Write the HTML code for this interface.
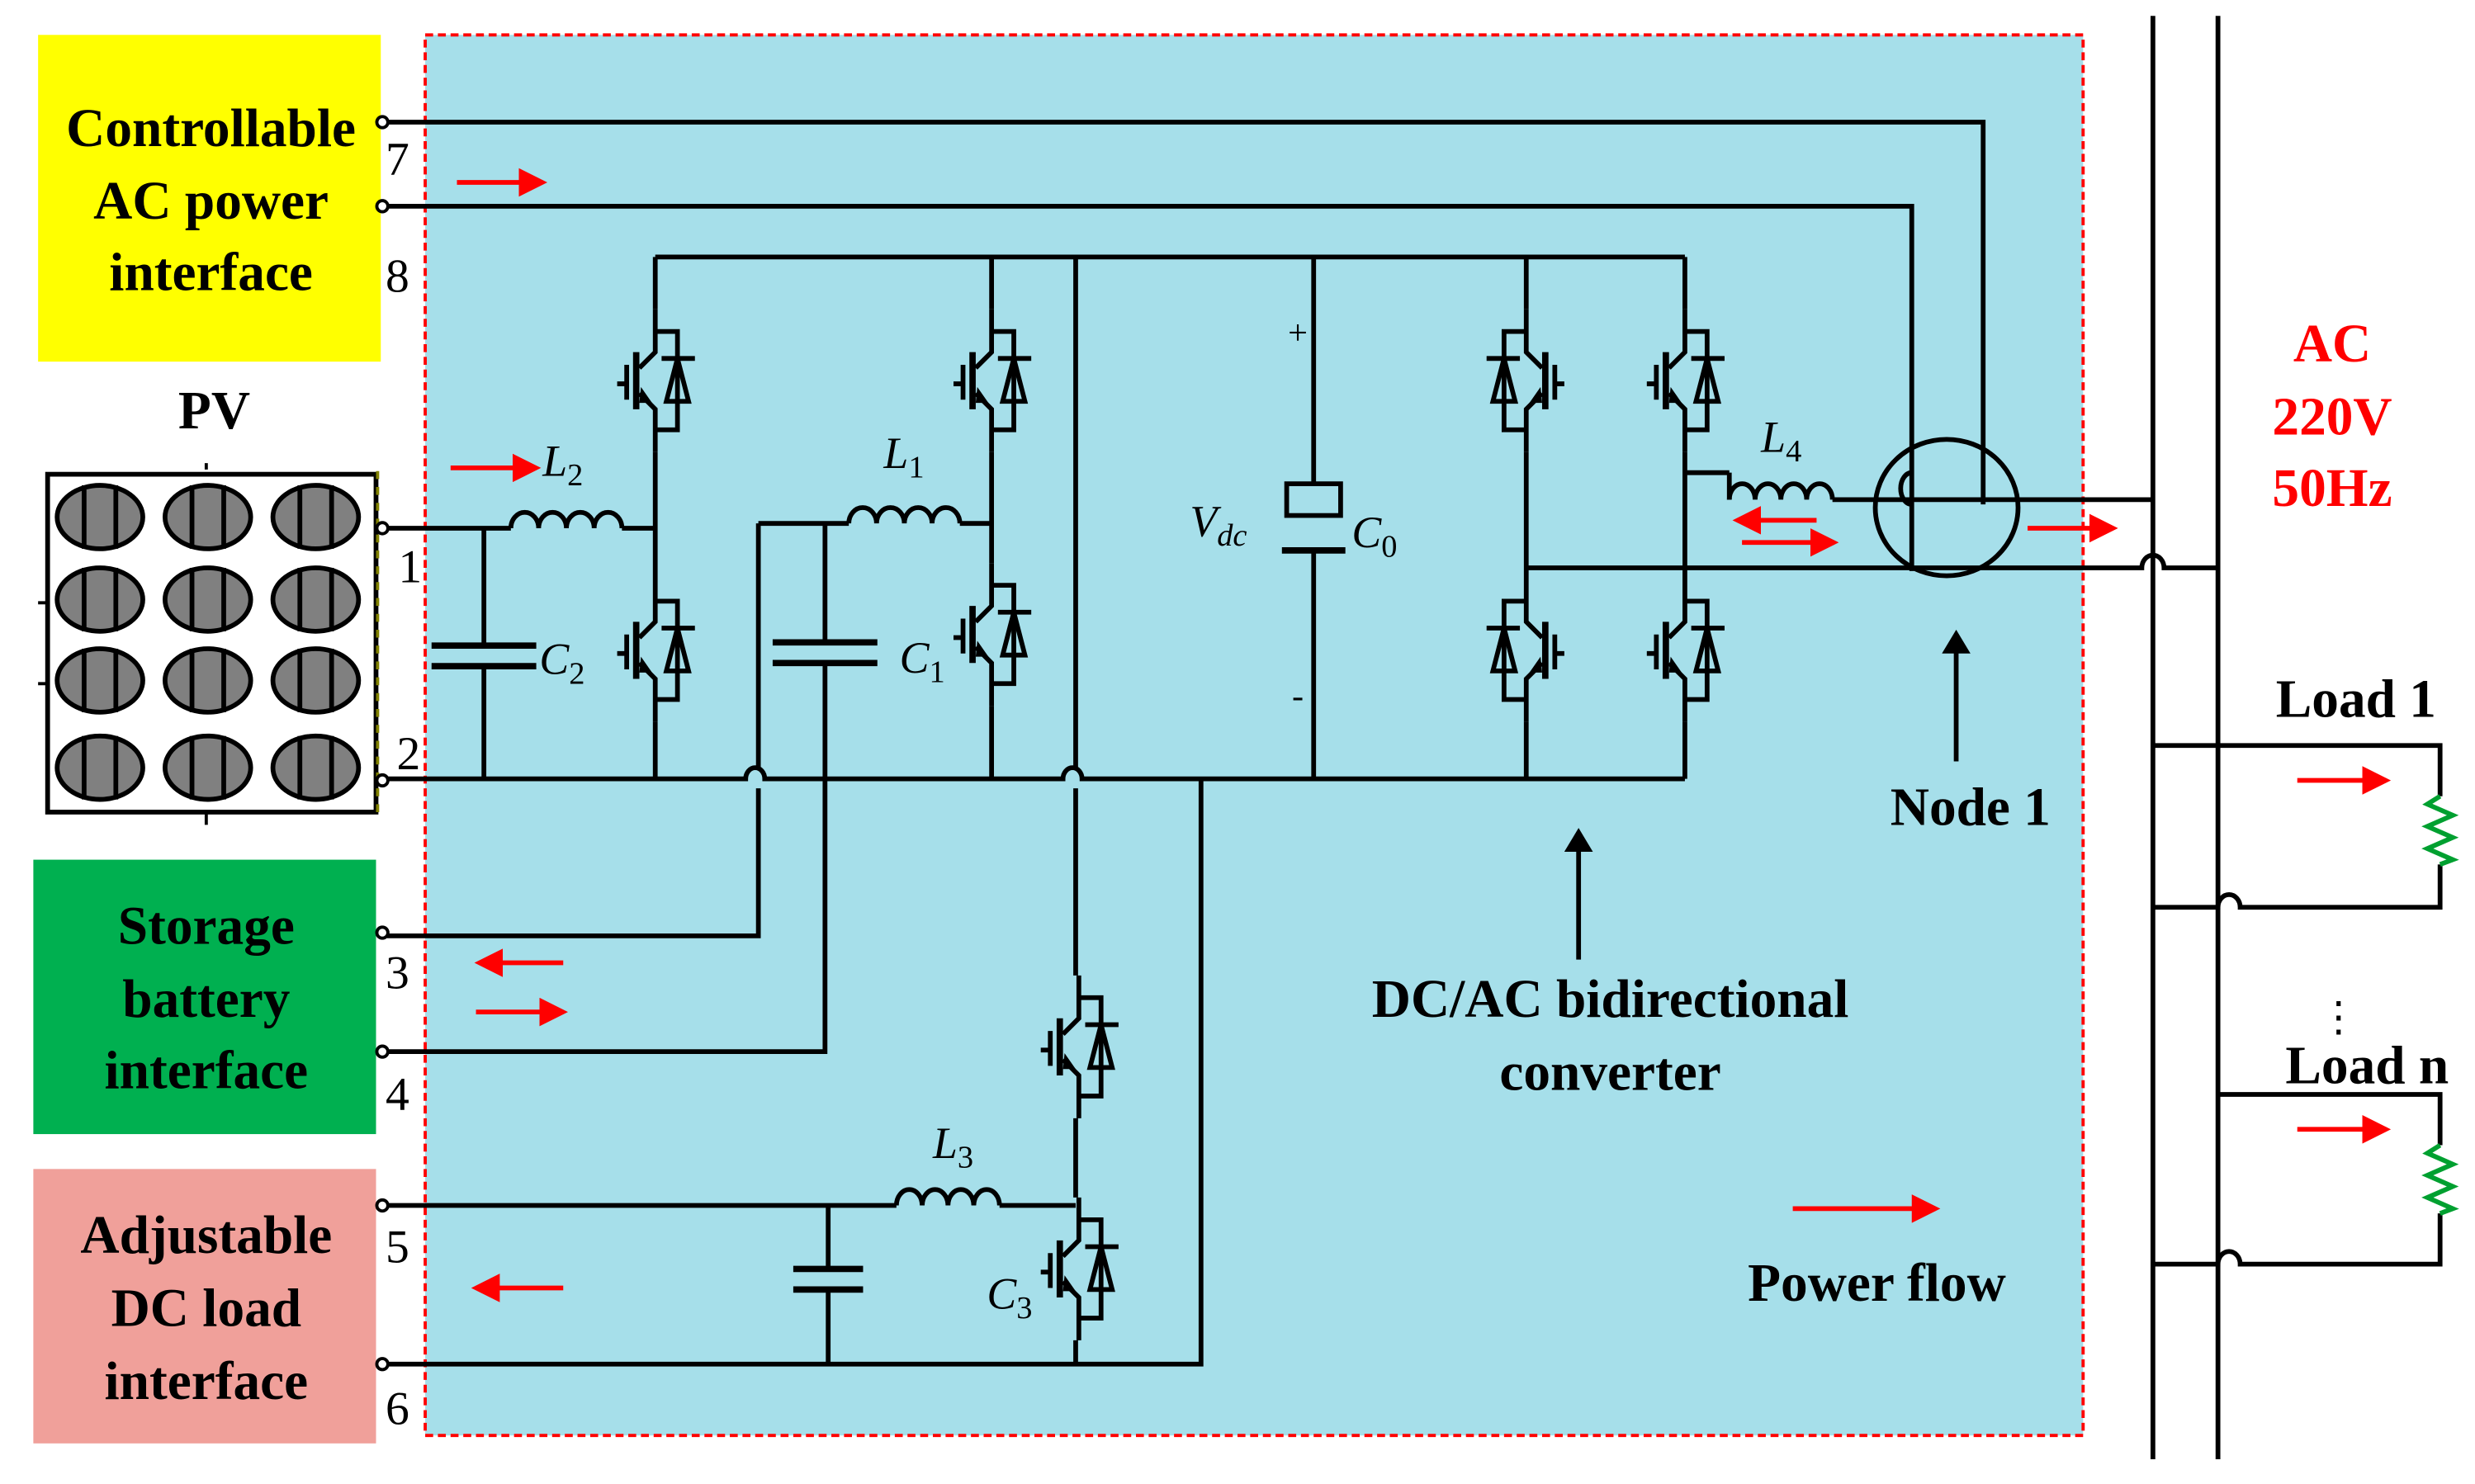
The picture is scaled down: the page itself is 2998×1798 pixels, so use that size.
<!DOCTYPE html>
<html><head><meta charset="utf-8"><style>
html,body{margin:0;padding:0;background:#fff;}
svg{display:block;}
.t{font-family:"Liberation Serif",serif;font-weight:bold;}
.n{font-family:"Liberation Serif",serif;}
</style></head><body>
<svg width="2998" height="1798" viewBox="0 0 1560 935.6" xmlns="http://www.w3.org/2000/svg">
<defs>
<g id="ig">
 <path d="M0,-45 V-18 L-10,-8 M-10,8 L0,18 V45" fill="none" stroke="#000" stroke-width="3"/>
 <path d="M-12,-18 V18" stroke="#000" stroke-width="4"/>
 <path d="M-18,-10 V12 M-24,2 H-18" stroke="#000" stroke-width="3"/>
 <path d="M-2,14 L-9,4 L-10,14 Z" fill="#000"/>
 <path d="M0,-31 H14 V31 H0" fill="none" stroke="#000" stroke-width="3"/>
 <path d="M14,-14 L21,13 H7 Z" fill="none" stroke="#000" stroke-width="3"/>
 <path d="M4,-14 H25" stroke="#000" stroke-width="3"/>
</g>
<g id="pvc"><ellipse cx="0" cy="0" rx="27" ry="20" fill="#808080" stroke="#000" stroke-width="3"/><path d="M-10,-20 V20 M10,-20 V20" stroke="#000" stroke-width="3"/></g>
<marker id="ra" markerWidth="6" markerHeight="6" refX="5" refY="3" orient="auto" markerUnits="strokeWidth"><path d="M0,0 L6,3 L0,6 Z" fill="#f00"/></marker>
<marker id="ba" markerWidth="5" markerHeight="6" refX="4" refY="3" orient="auto" markerUnits="strokeWidth"><path d="M0,0 L5,3 L0,6 Z" fill="#000"/></marker>
</defs>

<!-- boxes -->
<rect x="24" y="22" width="216" height="206" fill="#ffff00"/>
<rect x="268" y="22" width="1045" height="883" fill="#a6dfea" stroke="#f00" stroke-width="2" stroke-dasharray="5,3"/>
<rect x="21" y="542" width="216" height="173" fill="#00b050"/>
<rect x="21" y="737" width="216" height="173" fill="#f0a09a"/>

<g class="t" font-size="34" text-anchor="middle" fill="#000">
<text x="133" y="92">Controllable</text><text x="133" y="138">AC power</text><text x="133" y="183">interface</text>
<text x="135" y="270">PV</text>
<text x="130" y="595">Storage</text><text x="130" y="641">battery</text><text x="130" y="686">interface</text>
<text x="130" y="790">Adjustable</text><text x="130" y="836">DC load</text><text x="130" y="882">interface</text>
<text x="1015" y="641">DC/AC bidirectional</text><text x="1015" y="687">converter</text>
<text x="1242" y="520">Node 1</text>
<text x="1183" y="820">Power flow</text>
<text x="1485" y="452">Load 1</text>
<text x="1492" y="683">Load n</text>
</g>
<g class="t" font-size="34" text-anchor="middle" fill="#f00">
<text x="1470" y="228">AC</text><text x="1470" y="274">220V</text><text x="1470" y="319">50Hz</text>
</g>
<text x="1474" y="650" class="n" font-size="26" text-anchor="middle">⋮</text>

<!-- PV panel -->
<rect x="30" y="299" width="207" height="213" fill="#fff" stroke="#000" stroke-width="3"/>
<path d="M238,297 V515" stroke="#808000" stroke-width="2" stroke-dasharray="5,5"/>
<path d="M130,512 V520 M130,296 V292 M24,380 H30 M24,431 H30" stroke="#000" stroke-width="2"/>
<g>
<use href="#pvc" x="63" y="326"/><use href="#pvc" x="131" y="326"/><use href="#pvc" x="199" y="326"/>
<use href="#pvc" x="63" y="378"/><use href="#pvc" x="131" y="378"/><use href="#pvc" x="199" y="378"/>
<use href="#pvc" x="63" y="429"/><use href="#pvc" x="131" y="429"/><use href="#pvc" x="199" y="429"/>
<use href="#pvc" x="63" y="484"/><use href="#pvc" x="131" y="484"/><use href="#pvc" x="199" y="484"/>
</g>

<!-- terminal numbers -->
<g class="n" font-size="30" fill="#000">
<text x="243" y="110">7</text><text x="243" y="184">8</text><text x="251" y="367">1</text><text x="250" y="485">2</text>
<text x="243" y="623">3</text><text x="243" y="700">4</text><text x="243" y="796">5</text><text x="243" y="898">6</text>
</g>

<g fill="none" stroke="#000" stroke-width="3">
<!-- AC lines 7,8 -->
<path d="M244,77 H1250 V318"/>
<path d="M244,130 H1205 V360"/>
<!-- DC rails -->
<path d="M413,162 H1062"/>
<path d="M244,491 H470 a6,7 0 0 1 12,0 H670 a6,7 0 0 1 12,0 H1062"/>
<!-- leg1 -->
<path d="M413,162 V195 M413,285 V365 M413,455 V491"/>
<path d="M244,333 H322 M392,333 H413"/>
<path d="M322,333 a8.75,10 0 0 1 17.5,0 a8.75,10 0 0 1 17.5,0 a8.75,10 0 0 1 17.5,0 a8.75,10 0 0 1 17.5,0"/>
<path d="M305,333 V407 M305,420 V491"/>
<!-- leg2 -->
<path d="M625,162 V195 M625,285 V355 M625,445 V491"/>
<path d="M478,330 H535 M605,330 H625"/>
<path d="M535,330 a8.75,10 0 0 1 17.5,0 a8.75,10 0 0 1 17.5,0 a8.75,10 0 0 1 17.5,0 a8.75,10 0 0 1 17.5,0"/>
<path d="M478,330 V485 M478,497 V590 H244"/>
<path d="M520,330 V405 M520,418 V663 H244"/>
<!-- leg3 -->
<path d="M678,162 V485 M678,497 V615 M678,705 V755 M678,845 V860"/>
<path d="M244,760 H565 M630,760 H678"/>
<path d="M565,760 a8.1,10 0 0 1 16.25,0 a8.1,10 0 0 1 16.25,0 a8.1,10 0 0 1 16.25,0 a8.1,10 0 0 1 16.25,0"/>
<path d="M522,760 V800 M522,813 V860"/>
<path d="M244,860 H757 V491"/>
<!-- C0 -->
<path d="M828,162 V305 M828,347 V491"/>
<!-- right legs -->
<path d="M962,162 V195 M962,285 V365 M962,455 V491"/>
<path d="M1062,162 V195 M1062,285 V365 M1062,455 V491"/>
<path d="M962,358 H1350 a7,8 0 0 1 14,0 H1398"/>
<path d="M1062,298 H1090 M1155,315 H1357"/>
<path d="M1090,315 a8.1,10 0 0 1 16.25,0 a8.1,10 0 0 1 16.25,0 a8.1,10 0 0 1 16.25,0 a8.1,10 0 0 1 16.25,0"/>
<path d="M1090,298 V315"/>
<!-- bus -->
<path d="M1357,10 V920 M1398,10 V920"/>
<!-- loads -->
<path d="M1357,470 H1538 V502 M1538,545 V572 H1412 a7,8 0 0 0 -14,0 H1357"/>
<path d="M1398,690 H1538 V722 M1538,765 V797 H1412 a7,8 0 0 0 -14,0 H1357"/>
</g>
<!-- capacitor plates -->
<g stroke="#000" stroke-width="4">
<path d="M272,407 H338 M272,420 H338"/>
<path d="M487,405 H553 M487,418 H553"/>
<path d="M500,800 H544 M500,813 H544"/>
<path d="M808,347 H848"/>
</g>
<rect x="811" y="305" width="34" height="20" fill="none" stroke="#000" stroke-width="3"/>
<!-- resistors -->
<path d="M1538,502 l-8,5 l16,7 l-16,7 l16,7 l-16,7 l16,7 l-8,3" fill="none" stroke="#00a030" stroke-width="3"/>
<path d="M1538,722 l-8,5 l16,7 l-16,7 l16,7 l-16,7 l16,7 l-8,3" fill="none" stroke="#00a030" stroke-width="3"/>
<!-- node circle -->
<ellipse cx="1227" cy="320" rx="45" ry="43" fill="none" stroke="#000" stroke-width="3"/>
<path d="M1205,298 a7,10 0 0 0 0,20" fill="none" stroke="#000" stroke-width="3"/>
<!-- IGBTs -->
<use href="#ig" x="413" y="240"/><use href="#ig" x="413" y="410"/>
<use href="#ig" x="625" y="240"/><use href="#ig" x="625" y="400"/>
<use href="#ig" x="680" y="660"/><use href="#ig" x="680" y="800"/>
<use href="#ig" transform="translate(962,240) scale(-1,1)"/><use href="#ig" transform="translate(962,410) scale(-1,1)"/>
<use href="#ig" x="1062" y="240"/><use href="#ig" x="1062" y="410"/>
<!-- terminals -->
<g fill="#fff" stroke="#000" stroke-width="2">
<circle cx="241" cy="77" r="3.5"/><circle cx="241" cy="130" r="3.5"/><circle cx="241" cy="333" r="3.5"/><circle cx="241" cy="492" r="3.5"/>
<circle cx="241" cy="588" r="3.5"/><circle cx="241" cy="663" r="3.5"/><circle cx="241" cy="760" r="3.5"/><circle cx="241" cy="860" r="3.5"/>
</g>
<!-- labels -->
<g class="n" font-style="italic" font-size="28" fill="#000">
<text x="342" y="300">L<tspan font-size="20" font-style="normal" dy="6">2</tspan></text>
<text x="557" y="295">L<tspan font-size="20" font-style="normal" dy="6">1</tspan></text>
<text x="588" y="730">L<tspan font-size="20" font-style="normal" dy="6">3</tspan></text>
<text x="1110" y="285">L<tspan font-size="20" font-style="normal" dy="6">4</tspan></text>
<text x="340" y="425">C<tspan font-size="20" font-style="normal" dy="6">2</tspan></text>
<text x="567" y="424">C<tspan font-size="20" font-style="normal" dy="6">1</tspan></text>
<text x="622" y="825">C<tspan font-size="20" font-style="normal" dy="6">3</tspan></text>
<text x="852" y="345">C<tspan font-size="20" font-style="normal" dy="6">0</tspan></text>
<text x="750" y="338">V<tspan font-size="20" dy="6">dc</tspan></text>
</g>
<text x="818" y="217" class="n" font-size="22" text-anchor="middle">+</text>
<text x="818" y="446" class="n" font-size="22" text-anchor="middle">-</text>
<!-- black arrows -->
<path d="M1233,480 V400" stroke="#000" stroke-width="3" marker-end="url(#ba)"/>
<path d="M995,605 V525" stroke="#000" stroke-width="3" marker-end="url(#ba)"/>
<!-- red arrows -->
<g stroke="#f00" stroke-width="3" marker-end="url(#ra)">
<path d="M288,115 H342"/>
<path d="M284,295 H338"/>
<path d="M1278,333 H1332"/>
<path d="M1145,328 H1095"/>
<path d="M1098,342 H1156"/>
<path d="M355,607 H302"/>
<path d="M300,638 H355"/>
<path d="M355,812 H300"/>
<path d="M1130,762 H1220"/>
<path d="M1448,492 H1504"/>
<path d="M1448,712 H1504"/>
</g>
</svg>
</body></html>
